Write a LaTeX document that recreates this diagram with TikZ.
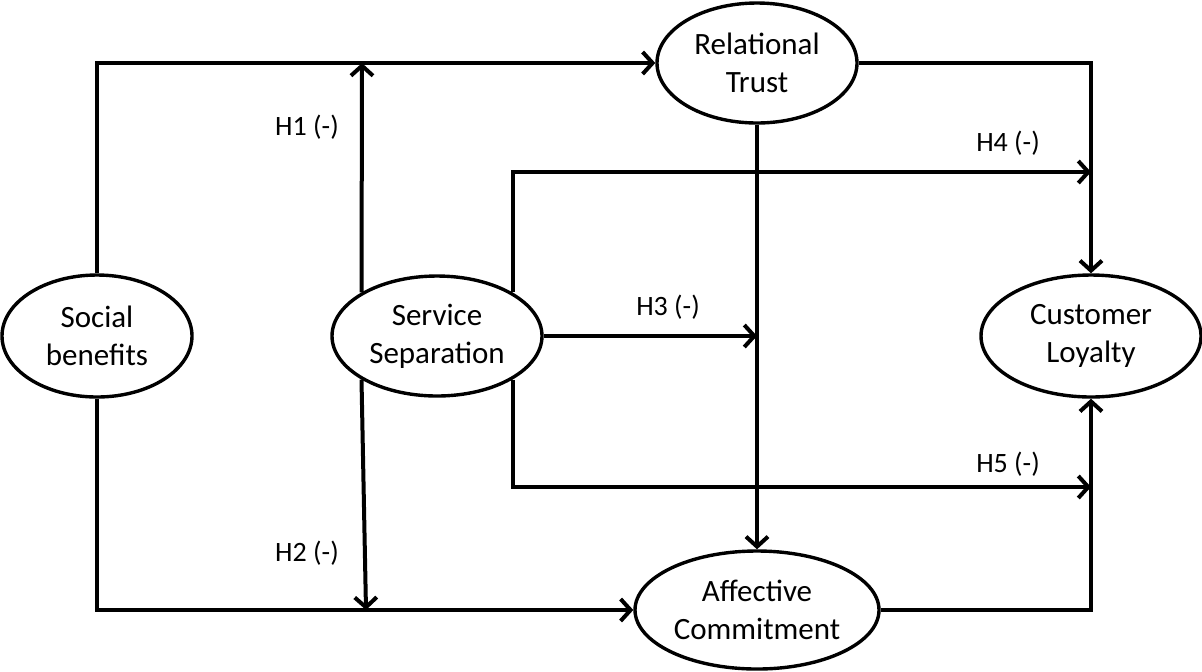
\documentclass[tikz,border=0pt]{standalone}
\usepackage{fontspec}
\setmainfont{Carlito}
\usetikzlibrary{arrows.meta,shapes.geometric}

\tikzset{
  construct/.style={draw, ellipse, line width=1.7pt, align=center, inner sep=0pt,
    font=\fontsize{15.5}{19}\selectfont},
  link/.style={line width=2pt, -{Straight Barb[length=5pt,width=11pt]}},
  hyp/.style={font=\fontsize{14}{17}\selectfont}
}

\begin{document}
\begin{tikzpicture}[x=0.5pt,y=-0.5pt]
  \useasboundingbox (0,0) rectangle (1202,671);

  \node[construct, minimum width=95pt, minimum height=61pt] (social) at (97,336) {Social\\benefits};
  \node[construct, minimum width=105pt, minimum height=60pt] (service) at (437,336) {Service\\Separation};
  \node[construct, minimum width=100pt, minimum height=60pt] (trust) at (757,63) {Relational\\Trust};
  \node[construct, minimum width=110pt, minimum height=61pt] (loyalty) at (1091,336) {Customer\\Loyalty};
  \node[construct, minimum width=122pt, minimum height=59pt] (commit) at (757,610) {Affective\\Commitment};

  \coordinate (h1) at (362,63);
  \coordinate (h2) at (366,610);
  \coordinate (h3) at (757,336);
  \coordinate (h4) at (1091,172);
  \coordinate (h5) at (1091,487);

  % main paths
  \draw[link] (social.north) |- (trust);
  \draw[link] (social.south) |- (commit);
  \draw[link] (trust.south) -- (commit.north);
  \draw[link] (trust.east) -| (loyalty.north);
  \draw[link] (commit.east) -| (loyalty.south);

  % moderation by service separation
  \draw[link] (service.150) -- (h1);
  \draw[link] (service.-150) -- (h2);
  \draw[link] (service.east) -- (h3);
  \draw[link] (service.30) |- (h4);
  \draw[link] (service.-30) |- (h5);

  \node[hyp] (l1) at (307,127) {H1 (-)};
  \node[hyp] (l2) at (307,553) {H2 (-)};
  \node[hyp] (l3) at (668,307) {H3 (-)};
  \node[hyp] (l4) at (1008,143) {H4 (-)};
  \node[hyp] (l5) at (1008,464) {H5 (-)};
\end{tikzpicture}
\end{document}
